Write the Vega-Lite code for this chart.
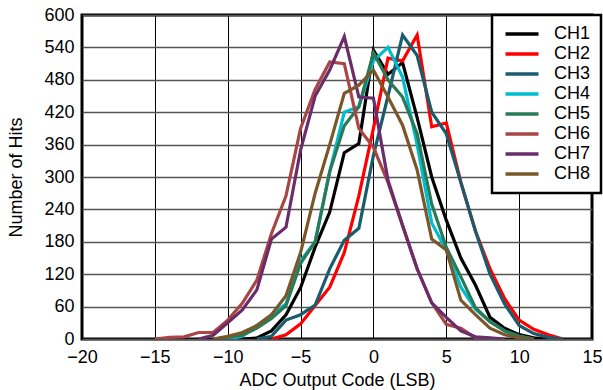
{
  "$schema": "https://vega.github.io/schema/vega-lite/v6.json",
  "width": 510,
  "height": 324,
  "autosize": {"type": "none"},
  "padding": {"left": 82, "top": 15, "right": 11, "bottom": 51},
  "background": "white",
  "config": {
    "font": "Liberation Sans",
    "view": {"stroke": "black", "strokeWidth": 3},
    "axis": {"labelFont": "Liberation Sans", "titleFont": "Liberation Sans", "labelColor": "black", "titleColor": "black", "titleFontWeight": "normal", "labelFontSize": 18, "titleFontSize": 18, "domain": false, "ticks": false}
  },
  "data": {"values": [
    {"ch":"CH1","x":-9,"v":0},{"ch":"CH1","x":-8,"v":2},{"ch":"CH1","x":-7,"v":15},{"ch":"CH1","x":-6,"v":45},{"ch":"CH1","x":-5,"v":95},{"ch":"CH1","x":-4,"v":170},{"ch":"CH1","x":-3,"v":235},{"ch":"CH1","x":-2,"v":345},{"ch":"CH1","x":-1,"v":362},{"ch":"CH1","x":0,"v":535},{"ch":"CH1","x":1,"v":490},{"ch":"CH1","x":2,"v":512},{"ch":"CH1","x":3,"v":410},{"ch":"CH1","x":4,"v":300},{"ch":"CH1","x":5,"v":220},{"ch":"CH1","x":6,"v":150},{"ch":"CH1","x":7,"v":100},{"ch":"CH1","x":8,"v":40},{"ch":"CH1","x":9,"v":20},{"ch":"CH1","x":10,"v":8},{"ch":"CH1","x":11,"v":2},{"ch":"CH1","x":12,"v":0},
    {"ch":"CH2","x":-7,"v":0},{"ch":"CH2","x":-6,"v":8},{"ch":"CH2","x":-5,"v":28},{"ch":"CH2","x":-4,"v":62},{"ch":"CH2","x":-3,"v":96},{"ch":"CH2","x":-2,"v":160},{"ch":"CH2","x":-1,"v":265},{"ch":"CH2","x":0,"v":390},{"ch":"CH2","x":1,"v":520},{"ch":"CH2","x":2,"v":515},{"ch":"CH2","x":3,"v":563},{"ch":"CH2","x":4,"v":393},{"ch":"CH2","x":5,"v":400},{"ch":"CH2","x":6,"v":290},{"ch":"CH2","x":7,"v":200},{"ch":"CH2","x":8,"v":130},{"ch":"CH2","x":9,"v":75},{"ch":"CH2","x":10,"v":35},{"ch":"CH2","x":11,"v":18},{"ch":"CH2","x":12,"v":8},{"ch":"CH2","x":13,"v":0},
    {"ch":"CH3","x":-8,"v":0},{"ch":"CH3","x":-7,"v":5},{"ch":"CH3","x":-6,"v":35},{"ch":"CH3","x":-5,"v":45},{"ch":"CH3","x":-4,"v":63},{"ch":"CH3","x":-3,"v":130},{"ch":"CH3","x":-2,"v":183},{"ch":"CH3","x":-1,"v":205},{"ch":"CH3","x":0,"v":340},{"ch":"CH3","x":1,"v":450},{"ch":"CH3","x":2,"v":563},{"ch":"CH3","x":3,"v":525},{"ch":"CH3","x":4,"v":420},{"ch":"CH3","x":5,"v":380},{"ch":"CH3","x":6,"v":290},{"ch":"CH3","x":7,"v":200},{"ch":"CH3","x":8,"v":120},{"ch":"CH3","x":9,"v":65},{"ch":"CH3","x":10,"v":25},{"ch":"CH3","x":11,"v":10},{"ch":"CH3","x":12,"v":3},{"ch":"CH3","x":13,"v":0},
    {"ch":"CH4","x":-10,"v":0},{"ch":"CH4","x":-9,"v":5},{"ch":"CH4","x":-8,"v":25},{"ch":"CH4","x":-7,"v":45},{"ch":"CH4","x":-6,"v":65},{"ch":"CH4","x":-5,"v":145},{"ch":"CH4","x":-4,"v":180},{"ch":"CH4","x":-3,"v":310},{"ch":"CH4","x":-2,"v":420},{"ch":"CH4","x":-1,"v":430},{"ch":"CH4","x":0,"v":515},{"ch":"CH4","x":1,"v":540},{"ch":"CH4","x":2,"v":485},{"ch":"CH4","x":3,"v":360},{"ch":"CH4","x":4,"v":215},{"ch":"CH4","x":5,"v":165},{"ch":"CH4","x":6,"v":96},{"ch":"CH4","x":7,"v":55},{"ch":"CH4","x":8,"v":32},{"ch":"CH4","x":9,"v":15},{"ch":"CH4","x":10,"v":5},{"ch":"CH4","x":11,"v":0},
    {"ch":"CH5","x":-11,"v":0},{"ch":"CH5","x":-10,"v":3},{"ch":"CH5","x":-9,"v":7},{"ch":"CH5","x":-8,"v":20},{"ch":"CH5","x":-7,"v":38},{"ch":"CH5","x":-6,"v":62},{"ch":"CH5","x":-5,"v":140},{"ch":"CH5","x":-4,"v":180},{"ch":"CH5","x":-3,"v":310},{"ch":"CH5","x":-2,"v":395},{"ch":"CH5","x":-1,"v":430},{"ch":"CH5","x":0,"v":530},{"ch":"CH5","x":1,"v":480},{"ch":"CH5","x":2,"v":448},{"ch":"CH5","x":3,"v":380},{"ch":"CH5","x":4,"v":250},{"ch":"CH5","x":5,"v":170},{"ch":"CH5","x":6,"v":115},{"ch":"CH5","x":7,"v":58},{"ch":"CH5","x":8,"v":32},{"ch":"CH5","x":9,"v":15},{"ch":"CH5","x":10,"v":5},{"ch":"CH5","x":11,"v":0},
    {"ch":"CH6","x":-15,"v":0},{"ch":"CH6","x":-14,"v":3},{"ch":"CH6","x":-13,"v":4},{"ch":"CH6","x":-12,"v":12},{"ch":"CH6","x":-11,"v":12},{"ch":"CH6","x":-10,"v":35},{"ch":"CH6","x":-9,"v":66},{"ch":"CH6","x":-8,"v":109},{"ch":"CH6","x":-7,"v":195},{"ch":"CH6","x":-6,"v":265},{"ch":"CH6","x":-5,"v":390},{"ch":"CH6","x":-4,"v":462},{"ch":"CH6","x":-3,"v":513},{"ch":"CH6","x":-2,"v":510},{"ch":"CH6","x":-1,"v":390},{"ch":"CH6","x":0,"v":355},{"ch":"CH6","x":1,"v":290},{"ch":"CH6","x":2,"v":210},{"ch":"CH6","x":3,"v":130},{"ch":"CH6","x":4,"v":67},{"ch":"CH6","x":5,"v":27},{"ch":"CH6","x":6,"v":20},{"ch":"CH6","x":7,"v":2},{"ch":"CH6","x":8,"v":0},
    {"ch":"CH7","x":-12,"v":0},{"ch":"CH7","x":-11,"v":7},{"ch":"CH7","x":-10,"v":30},{"ch":"CH7","x":-9,"v":54},{"ch":"CH7","x":-8,"v":91},{"ch":"CH7","x":-7,"v":185},{"ch":"CH7","x":-6,"v":207},{"ch":"CH7","x":-5,"v":350},{"ch":"CH7","x":-4,"v":450},{"ch":"CH7","x":-3,"v":498},{"ch":"CH7","x":-2,"v":560},{"ch":"CH7","x":-1,"v":448},{"ch":"CH7","x":0,"v":446},{"ch":"CH7","x":1,"v":294},{"ch":"CH7","x":2,"v":210},{"ch":"CH7","x":3,"v":130},{"ch":"CH7","x":4,"v":67},{"ch":"CH7","x":5,"v":40},{"ch":"CH7","x":6,"v":15},{"ch":"CH7","x":7,"v":4},{"ch":"CH7","x":8,"v":2},{"ch":"CH7","x":9,"v":0},
    {"ch":"CH8","x":-11,"v":0},{"ch":"CH8","x":-10,"v":5},{"ch":"CH8","x":-9,"v":12},{"ch":"CH8","x":-8,"v":25},{"ch":"CH8","x":-7,"v":45},{"ch":"CH8","x":-6,"v":80},{"ch":"CH8","x":-5,"v":160},{"ch":"CH8","x":-4,"v":270},{"ch":"CH8","x":-3,"v":360},{"ch":"CH8","x":-2,"v":455},{"ch":"CH8","x":-1,"v":470},{"ch":"CH8","x":0,"v":498},{"ch":"CH8","x":1,"v":448},{"ch":"CH8","x":2,"v":396},{"ch":"CH8","x":3,"v":313},{"ch":"CH8","x":4,"v":185},{"ch":"CH8","x":5,"v":165},{"ch":"CH8","x":6,"v":72},{"ch":"CH8","x":7,"v":45},{"ch":"CH8","x":8,"v":20},{"ch":"CH8","x":9,"v":8},{"ch":"CH8","x":10,"v":2},{"ch":"CH8","x":11,"v":0}
  ]},
  "mark": {"type": "line", "strokeWidth": 3.2, "clip": true},
  "encoding": {
    "x": {"field": "x", "type": "quantitative", "scale": {"domain": [-20, 15], "nice": false, "zero": false},
      "axis": {"title": "ADC Output Code (LSB)", "values": [-20,-15,-10,-5,0,5,10,15], "grid": true, "gridColor": "black", "gridWidth": 1, "gridOpacity": 1, "labelPadding": 9, "titlePadding": 5, "labelFlush": false}},
    "y": {"field": "v", "type": "quantitative", "scale": {"domain": [0, 600], "nice": false},
      "axis": {"title": "Number of Hits", "values": [0,60,120,180,240,300,360,420,480,540,600], "grid": true, "gridColor": "#555555", "gridWidth": 1.5, "gridOpacity": 1, "labelPadding": 8, "titlePadding": 18, "labelFlush": false}},
    "color": {"field": "ch", "type": "nominal",
      "scale": {"domain": ["CH1","CH2","CH3","CH4","CH5","CH6","CH7","CH8"], "range": ["#000000","#ff0000","#1b5b6e","#00bcd0","#2a7a58","#a84646","#6b2c6b","#7a5628"]},
      "legend": {"title": null, "orient": "none", "legendX": 410, "legendY": 0, "fillColor": "white", "strokeColor": "black", "padding": 10, "symbolType": "M-3,0H3", "symbolSize": 121, "symbolStrokeWidth": 3.5, "symbolOffset": 11, "labelFontSize": 18, "labelFont": "Liberation Sans", "labelColor": "black", "labelOffset": 23, "rowPadding": 2, "offset": 0,
        "encode": {"legend": {"update": {"strokeWidth": {"value": 2.5}}}}}}
  }
}
